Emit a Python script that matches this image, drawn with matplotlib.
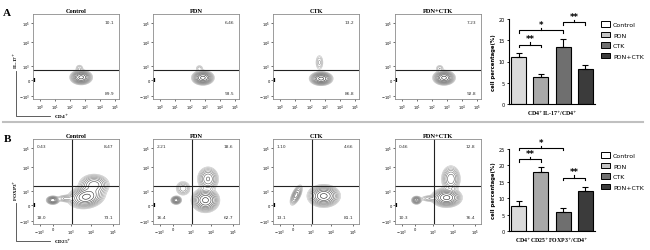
import matplotlib
matplotlib.use('Agg')
import matplotlib.pyplot as plt
from matplotlib.patches import Patch
import numpy as np

W, H = 650, 251

# ---- data ----
groups = ['Control', 'PDN', 'CTK', 'PDN+CTK']

# row A: IL-17+ quadrant percentages (upper, lower)
il17_upper = ['10.1', '6.46', '13.2', '7.23']
il17_lower = ['89.9', '93.5', '86.8', '92.8']
# row B: FOXP3 / CD25 quadrants (UL, UR, LL, LR)
treg_ul = ['0.43', '2.21', '1.10', '0.46']
treg_ur = ['8.47', '18.6', '4.66', '12.8']
treg_ll = ['18.0', '16.4', '13.1', '10.3']
treg_lr = ['73.1', '62.7', '81.1', '76.4']

# bar charts
il17_mean = [11.0, 6.4, 13.3, 8.3]
il17_err = [1.1, 0.6, 2.0, 0.9]
treg_mean = [7.7, 17.9, 5.9, 12.3]
treg_err = [1.3, 1.6, 1.0, 1.0]

# populations seen in the contour plots: (cx, cy, sx, sy, weight, angle)
popsA = [
    [(56, 25.5, 4.8, 3.2, 1, 0), (54, 36, 2.4, 2.4, 0.07, 0)],
    [(58, 25, 4.8, 3.2, 1, 0), (54, 36, 2.4, 2.2, 0.06, 0)],
    [(56, 24, 5.0, 3.0, 1, 0), (54, 43, 2.4, 4.8, 0.08, 0)],
    [(57, 25, 4.8, 3.2, 1, 0), (52, 36, 2.4, 2.2, 0.07, 0)],
]
popsB = [
    [(23, 28, 3.0, 2.0, 0.55, 0), (38, 30, 5, 2.0, 0.12, 0), (62, 32, 8, 5, 1, 10), (71, 46, 7, 5, 0.5, 0)],
    [(27, 28, 2.5, 2.0, 0.5, 0), (35, 42, 4, 4, 0.15, 0), (61, 28, 6, 5.3, 1, 0), (64, 53, 5, 5.8, 0.4, 0)],
    [(27, 34, 2.2, 5.6, 0.3, -25), (59, 33, 7, 4.9, 1, 0)],
    [(25, 28, 2.4, 2.0, 0.4, 0), (40, 30, 5, 1.8, 0.1, 0), (60, 31, 6.6, 4.2, 1, 0), (65, 53, 4.6, 6.5, 0.35, 0)],
]

# axis tick positions (in plot units 0-100)
xticksA = [7.8, 25.2, 42.6, 60, 77.5, 95]
xlabA = [r'$10^{0}$', r'$10^{1}$', r'$10^{2}$', r'$10^{3}$', r'$10^{4}$', r'$10^{5}$']
xticksB = [7.8, 23.3, 44.6, 67.8, 93]
xlabB = [r'$-10^{3}$', '0', r'$10^{3}$', r'$10^{4}$', r'$10^{5}$']
yticks = [3.9, 22, 39.2, 66.7, 89.4]
ylab = [r'$-10^{3}$', '0', r'$10^{3}$', r'$10^{4}$', r'$10^{5}$']


def box(l, t, w, h):
    return [l / W, 1 - (t + h) / H, w / W, h / H]


def density(pops):
    X, Y = np.meshgrid(np.linspace(0, 100, 300), np.linspace(0, 100, 300))
    Z = np.zeros_like(X)
    for cx, cy, sx, sy, w, a in pops:
        t = np.deg2rad(a)
        dx, dy = X - cx, Y - cy
        u = dx * np.cos(t) + dy * np.sin(t)
        v = -dx * np.sin(t) + dy * np.cos(t)
        Z += w * np.exp(-(u ** 2 / (2 * sx ** 2) + v ** 2 / (2 * sy ** 2)))
    return X, Y, Z


fig = plt.figure(figsize=(W / 100, H / 100), dpi=100)
serif = 'Liberation Serif'
lefts = [33, 153, 273, 395]


def flow(ax, pops, xt, xl):
    X, Y, Z = density(pops)
    lev = Z.max() * np.geomspace(0.02, 0.85, 10)
    cols = plt.cm.Greys(np.linspace(0.35, 0.9, len(lev)))
    ax.contour(X, Y, Z, levels=lev, colors=cols, linewidths=0.4)
    ax.set_xlim(0, 100)
    ax.set_ylim(0, 100)
    ax.set_xticks(xt)
    ax.set_xticklabels(xl, fontsize=2.6)
    ax.set_yticks(yticks)
    ax.set_yticklabels(ylab, fontsize=2.6)
    ax.tick_params(length=1.2, width=0.4, pad=1.2)
    for s in ax.spines.values():
        s.set_color('#8c8c8c')
        s.set_linewidth(0.6)
    ax.plot([0.6, 0.6], [19.5, 24.5], color='k', lw=1.6, solid_capstyle='butt')


# ---- row A flow plots ----
for i, g in enumerate(groups):
    ax = fig.add_axes(box(lefts[i], 15, 86, 85))
    flow(ax, popsA[i], xticksA, xlabA)
    ax.axhline(34.5, color='#222222', lw=0.8)
    ax.set_title(g, fontsize=4.6, family=serif, weight='bold', pad=1.5)
    ax.text(0.89, 0.91, il17_upper[i], transform=ax.transAxes, fontsize=3.2, ha='center', va='center', color='#333333')
    ax.text(0.89, 0.07, il17_lower[i], transform=ax.transAxes, fontsize=3.2, ha='center', va='center', color='#333333')

# ---- row B flow plots ----
for i, g in enumerate(groups):
    ax = fig.add_axes(box(lefts[i], 140, 86, 85))
    flow(ax, popsB[i], xticksB, xlabB)
    ax.axhline(45.1, color='#222222', lw=0.8)
    ax.axvline(45.7, color='#222222', lw=0.8)
    ax.set_title(g, fontsize=4.6, family=serif, weight='bold', pad=1.5)
    kw = dict(transform=ax.transAxes, fontsize=3.2, va='center', color='#333333')
    ax.text(0.04, 0.92, treg_ul[i], ha='left', **kw)
    ax.text(0.93, 0.92, treg_ur[i], ha='right', **kw)
    ax.text(0.04, 0.08, treg_ll[i], ha='left', **kw)
    ax.text(0.93, 0.08, treg_lr[i], ha='right', **kw)

# axis indicators on the first panels
for top, yb, ylbl, xlbl in [(72, 117, 'IL-17$^{+}$', 'CD4$^{+}$'), (204, 242, 'FOXP3$^{+}$', 'CD25$^{+}$')]:
    fig.add_artist(plt.Line2D([16 / W, 16 / W, 50 / W], [1 - top / H, 1 - yb / H, 1 - yb / H],
                              color='#444444', lw=0.6))
    fig.text(16 / W, 1 - (top - 3) / H, ylbl, rotation=90, fontsize=3.8, ha='center', va='bottom',
             family=serif, weight='bold')
    fig.text(54 / W, 1 - yb / H, xlbl, fontsize=3.8, ha='left', va='center', family=serif, weight='bold')

fig.text(7 / W, 1 - 13 / H, 'A', fontsize=8, family=serif, weight='bold', ha='center', va='center')
fig.text(7 / W, 1 - 140 / H, 'B', fontsize=8, family=serif, weight='bold', ha='center', va='center')
fig.add_artist(plt.Line2D([3 / W, 643 / W], [1 - 123 / H, 1 - 123 / H], color='#c0c0c0', lw=1.5))

# ---- bar charts ----
bar_cols = ['#dadada', '#a9a9a9', '#6f6f6f', '#3b3b3b']
leg_cols = ['#ffffff', '#c4c4c4', '#6f6f6f', '#3b3b3b']


def bracket(ax, x1, x2, y, h, txt):
    xm = (x1 + x2) / 2
    ax.plot([x1, x1, x2, x2], [y - h, y, y, y - h], color='k', lw=0.8, clip_on=False)
    ax.plot([xm, xm], [y, y + h], color='k', lw=0.8, clip_on=False)
    ax.text(xm, y + h * 0.6, txt, fontsize=6, ha='center', va='bottom', weight='bold', clip_on=False)


def bars(ax, mean, err, ymax, xlabel, brs):
    x = np.arange(len(mean))
    ax.bar(x, mean, width=0.68, color=bar_cols, edgecolor='k', linewidth=0.8)
    ax.errorbar(x, mean, yerr=[np.zeros(len(err)), err], fmt='none', ecolor='k',
                elinewidth=0.8, capsize=2.2, capthick=0.8)
    ax.set_xlim(-0.45, 3.45)
    ax.set_ylim(0, ymax)
    ax.set_yticks(np.arange(0, ymax + 1, 5))
    ax.tick_params(axis='y', labelsize=3.6, length=1.8, width=0.6, pad=1)
    ax.set_xticks([])
    ax.spines['top'].set_visible(False)
    ax.spines['right'].set_visible(False)
    for s in ['left', 'bottom']:
        ax.spines[s].set_linewidth(0.8)
    ax.set_ylabel('cell percentage(%)', fontsize=3.8, labelpad=2, weight='bold')
    ax.set_xlabel(xlabel, fontsize=4.2, labelpad=3, family=serif, weight='bold')
    h = ymax * 0.03
    for x1, x2, y, t in brs:
        bracket(ax, x1, x2, y, h, t)


axA = fig.add_axes(box(509, 20, 86, 85))
bars(axA, il17_mean, il17_err, 20, 'CD4$^{+}$IL-17$^{+}$/CD4$^{+}$',
     [(0, 1, 14.0, '**'), (0, 2, 17.3, '*'), (2, 3, 19.2, '**')])
axB = fig.add_axes(box(509, 150, 86, 82))
bars(axB, treg_mean, treg_err, 25, 'CD4$^{+}$CD25$^{+}$FOXP3$^{+}$/CD4$^{+}$',
     [(0, 1, 21.9, '**'), (0, 2, 25.3, '*'), (2, 3, 16.3, '**')])

handles = [Patch(facecolor=c, edgecolor='k', linewidth=0.7) for c in leg_cols]
for ax, top in [(axA, 22), (axB, 153)]:
    fig.legend(handles, groups, loc='upper left', bbox_to_anchor=(601 / W, 1 - top / H),
               fontsize=4.5, frameon=False, handlelength=1.4, handleheight=1.0,
               labelspacing=0.75, borderpad=0, borderaxespad=0, handletextpad=0.5)

fig.savefig('out.png', dpi=100)
